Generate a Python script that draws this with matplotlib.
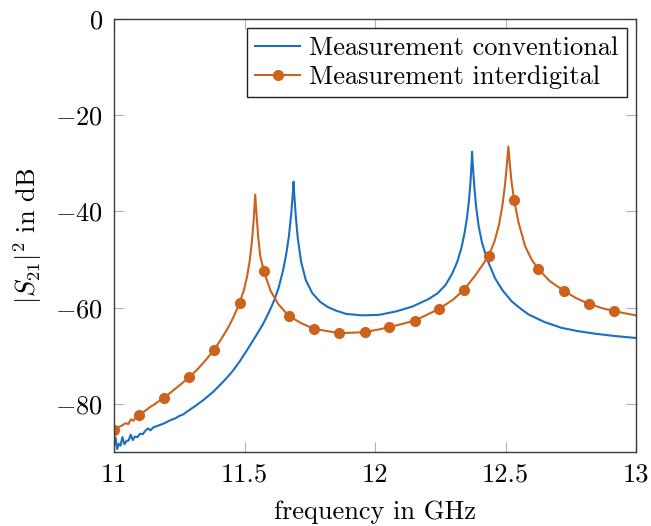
import numpy as np
import matplotlib
matplotlib.use("Agg")
import matplotlib.pyplot as plt

plt.rcParams['font.family'] = 'serif'
plt.rcParams['font.serif'] = ['cmr10', 'DejaVu Serif']
plt.rcParams['mathtext.fontset'] = 'cm'
plt.rcParams['axes.formatter.use_mathtext'] = True
plt.rcParams['axes.unicode_minus'] = True

# --- data (frequency in GHz, |S21|^2 in dB) ---
conv_f = [11.000, 11.006, 11.012, 11.018, 11.025, 11.032, 11.040, 11.048, 11.056,
          11.064, 11.072, 11.080, 11.090, 11.100, 11.110, 11.120, 11.130, 11.140,
          11.150, 11.160, 11.175, 11.190, 11.205, 11.220, 11.235, 11.250, 11.265,
          11.280, 11.310, 11.340, 11.380, 11.420, 11.450, 11.480, 11.510, 11.540,
          11.570, 11.585, 11.600, 11.615, 11.630, 11.648, 11.660, 11.670, 11.679,
          11.685, 11.688, 11.691, 11.697, 11.704, 11.717, 11.735, 11.760, 11.790,
          11.820, 11.850, 11.890, 11.950, 12.015, 12.079, 12.142, 12.206, 12.240,
          12.270, 12.295, 12.315, 12.330, 12.342, 12.352, 12.360, 12.366, 12.370,
          12.372, 12.375, 12.380, 12.387, 12.397, 12.410, 12.430, 12.460, 12.490,
          12.524, 12.560, 12.588, 12.650, 12.715, 12.780, 12.842, 12.920, 13.000]
conv_db = [-88.8, -87.0, -89.4, -88.3, -88.7, -86.9, -88.4, -87.7, -87.6,
           -86.4, -87.5, -86.8, -86.9, -86.2, -86.3, -85.6, -85.1, -85.5,
           -84.9, -84.7, -84.4, -84.1, -83.7, -83.3, -83.0, -82.5, -82.2,
           -81.6, -80.5, -79.3, -77.5, -75.3, -73.5, -71.3, -68.8, -66.2,
           -63.5, -61.9, -60.2, -58.3, -56.0, -52.2, -48.8, -45.2, -40.5,
           -36.3, -33.8, -36.8, -41.3, -45.5, -50.5, -54.3, -57.0, -58.8,
           -59.9, -60.6, -61.3, -61.6, -61.5, -60.8, -59.8, -58.2, -57.0,
           -55.3, -53.0, -50.5, -47.8, -44.8, -41.5, -37.8, -33.8, -30.0,
           -27.6, -30.5, -34.5, -38.8, -43.0, -46.5, -50.0, -53.9, -56.5,
           -58.7, -60.3, -61.4, -63.0, -64.2, -64.9, -65.4, -65.9, -66.3]

inter_f = [11.000, 11.015, 11.030, 11.045, 11.055, 11.065, 11.075, 11.085, 11.096,
           11.110, 11.125, 11.140, 11.155, 11.170, 11.191, 11.220, 11.250, 11.287,
           11.320, 11.350, 11.383, 11.410, 11.440, 11.460, 11.481, 11.498, 11.510,
           11.520, 11.528, 11.535, 11.541, 11.546, 11.552, 11.560, 11.574, 11.600,
           11.630, 11.669, 11.720, 11.767, 11.863, 11.961, 12.053, 12.152, 12.244,
           12.300, 12.340, 12.380, 12.410, 12.436, 12.458, 12.475, 12.488, 12.498,
           12.505, 12.511, 12.516, 12.523, 12.533, 12.550, 12.575, 12.600, 12.626,
           12.670, 12.724, 12.770, 12.819, 12.870, 12.915, 12.960, 13.000]
inter_db = [-85.4, -84.9, -84.5, -84.0, -84.2, -83.2, -83.5, -82.7, -82.4,
            -81.8, -81.2, -80.6, -80.1, -79.5, -78.7, -77.5, -76.2, -74.5,
            -72.8, -71.0, -68.8, -66.6, -63.9, -61.7, -59.0, -56.3, -53.5,
            -50.2, -46.5, -42.0, -36.5, -40.5, -45.0, -49.2, -52.4, -56.5,
            -59.3, -61.7, -63.3, -64.4, -65.3, -65.1, -64.1, -62.7, -60.3,
            -58.3, -56.3, -53.6, -51.3, -49.2, -46.2, -42.8, -38.8, -34.5,
            -30.5, -26.5, -29.8, -33.8, -37.6, -42.3, -47.2, -50.0, -52.0,
            -54.5, -56.5, -58.0, -59.2, -60.1, -60.7, -61.2, -61.6]

inter_marker_f = [11.000, 11.096, 11.191, 11.287, 11.383, 11.481, 11.574, 11.669,
                  11.767, 11.863, 11.961, 12.053, 12.152, 12.244, 12.340, 12.436,
                  12.533, 12.626, 12.724, 12.819, 12.915]

labels = ["Measurement conventional", "Measurement interdigital"]
x_ticks = [11, 11.5, 12, 12.5, 13]
x_tick_labels = ["11", "11.5", "12", "12.5", "13"]
y_ticks = [-80, -60, -40, -20, 0]

blue = '#1a6fc0'
orange = '#cc621c'
FS = 19

fig = plt.figure(figsize=(6.51, 5.26), dpi=100)
ax = fig.add_axes([114/651, 1 - 452/526, (636-114)/651, (452-19)/526])

ax.plot(conv_f, conv_db, color=blue, lw=1.5, label=labels[0])
mark_idx = [int(np.argmin(np.abs(np.array(inter_f) - m))) for m in inter_marker_f]
ax.plot(inter_f, inter_db, color=orange, lw=1.5, marker='o', ms=7,
        markevery=mark_idx, label=labels[1])

ax.set_xlim(11, 13)
ax.set_ylim(-90, 0)
ax.set_xticks(x_ticks)
ax.set_xticklabels(x_tick_labels)
ax.set_yticks(y_ticks)
ax.tick_params(direction='in', length=7, width=0.8, color='#b0b0b0',
               top=True, right=True, labelsize=FS, pad=8)
for s in ax.spines.values():
    s.set_color('#3a3a3a')
    s.set_linewidth(1.0)

ax.set_xlabel('frequency in GHz', fontsize=FS, labelpad=10)
ax.set_ylabel(r'$|S_{21}|^2$ in dB', fontsize=FS, labelpad=8)

leg = ax.legend(loc='upper right', fontsize=FS, frameon=True, fancybox=False,
                edgecolor='#222222', framealpha=1, borderaxespad=0.35,
                handlelength=1.7, handletextpad=0.35, borderpad=0.3,
                labelspacing=0.2)
leg.get_frame().set_linewidth(1.0)

fig.savefig('out.png', dpi=100)
